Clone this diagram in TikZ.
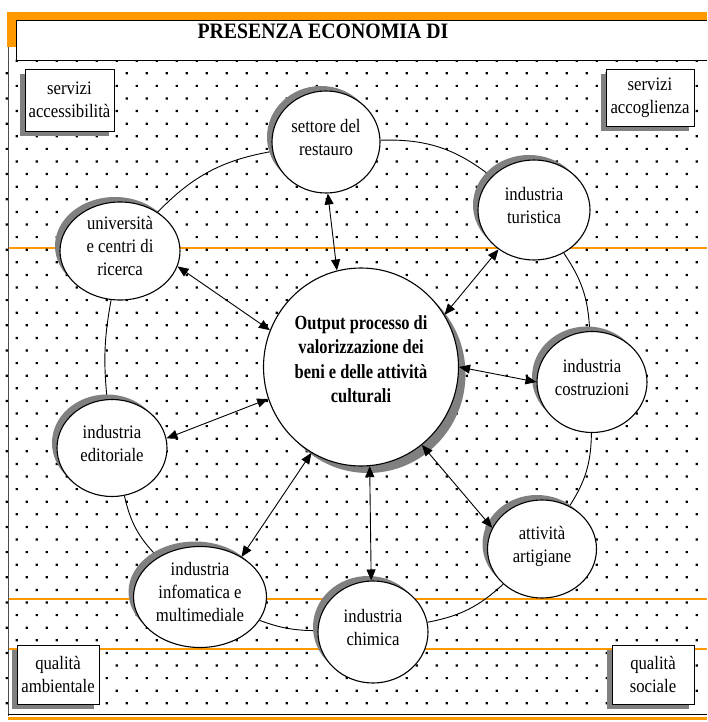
\documentclass[tikz,border=0pt]{standalone}
\usepackage{fontspec}
\setmainfont{Liberation Serif}
\newfontfamily\labelfont[FakeStretch=0.88]{Liberation Serif}
\newfontfamily\corefont[FakeStretch=0.82]{Liberation Serif}
\newfontfamily\headfont[FakeStretch=0.9]{Liberation Serif}
\usetikzlibrary{arrows.meta,shapes.geometric,shadows}
\definecolor{bandorange}{RGB}{255,153,0}
\definecolor{shade}{RGB}{128,128,128}
\pgfdeclarelayer{paper}
\pgfdeclarelayer{ring}
\pgfsetlayers{paper,ring,main}

\begin{document}
\begin{tikzpicture}[x=1pt,y=-1pt,
  sector/.style={ellipse, draw, line width=1.1pt, fill=white, inner sep=0pt,
    align=center, text depth=10pt,
    font=\labelfont\fontsize{19}{23}\selectfont,
    drop shadow={shadow xshift=-5pt, shadow yshift=5pt, fill=shade, opacity=1}},
  core/.style={ellipse, draw, line width=1.1pt, fill=white, inner sep=0pt,
    align=center, text depth=16pt,
    font=\corefont\bfseries\fontsize{20}{24.5}\selectfont,
    drop shadow={shadow xshift=7pt, shadow yshift=-7pt, fill=shade, opacity=1}},
  tag/.style={rectangle, draw, line width=0.9pt, fill=white, inner sep=0pt,
    align=center, font=\labelfont\fontsize{19}{23}\selectfont,
    drop shadow={shadow xshift=-5pt, shadow yshift=-5pt, fill=shade, opacity=1}},
  link/.style={line width=0.9pt},
  flow/.style={line width=0.9pt,
    {Triangle[length=11pt,width=9pt]}-{Triangle[length=11pt,width=9pt]}},
  band/.style={bandorange, line width=1.4pt},
]
\useasboundingbox (0,0) rectangle (707,722);

% ---- sheet: header band, frame, guide lines and dotted fill ----
\begin{pgfonlayer}{paper}
  \fill[white] (0,0) rectangle (707,722);
  \fill[bandorange] (7,12) rectangle (707,47);
  \draw[band] (8,248) -- (707,248);
  \draw[band] (8,599) -- (707,599);
  \draw[band] (8,649) -- (707,649);
  \fill[black]
    \foreach \r in {0,...,51}{
      \foreach \c in {0,...,34}{
        ({ifthenelse(mod(\r,2)==0,16.7,6.7)+20*\c-1.1},{60.7+12.6*\r-1.1}) rectangle ++(2.2,2.2)
      }
    };
  \draw[black!70, line width=1pt] (8,47) -- (8,716);
  \draw[black, line width=1pt] (8,714.5) -- (707,714.5);
  \draw[bandorange, line width=2.5pt] (8,718.5) -- (707,718.5);
  \fill[white] (16,20) rectangle (707,60);
  \draw[line width=0.9pt] (707,20) -- (16,20) -- (16,60) -- (707,60);
\end{pgfonlayer}

\node (title) at (323,31) {\headfont\bfseries\fontsize{22}{24}\selectfont PRESENZA ECONOMIA DI};

% ---- corner boxes ----
\node[tag, minimum width=89pt, minimum height=62pt] (accesso) at (69.5,100) {servizi\\accessibilità};
\node[tag, minimum width=88pt, minimum height=57pt] (accoglie) at (650,97.5) {servizi\\accoglienza};
\node[tag, minimum width=82pt, minimum height=59pt] (ambiente) at (58,674.5) {qualità\\ambientale};
\node[tag, minimum width=82pt, minimum height=59pt] (sociale) at (653,674.5) {qualità\\sociale};

% ---- central output ----
\node[core, minimum width=195pt, minimum height=198pt] (out) at (361,367)
  {Output processo di\\valorizzazione dei\\beni e delle attività\\culturali};

% ---- sectors around it ----
\node[sector, minimum width=108pt, minimum height=102pt] (restauro) at (326,142) {settore del\\restauro};
\node[sector, minimum width=112pt, minimum height=100pt] (turismo) at (534,210) {industria\\turistica};
\node[sector, minimum width=110pt, minimum height=101pt] (edilizia) at (592,382) {industria\\costruzioni};
\node[sector, minimum width=109pt, minimum height=98pt] (artigiani) at (542,549) {attività\\artigiane};
\node[sector, minimum width=110pt, minimum height=102pt] (chimica) at (373,632) {industria\\chimica};
\node[sector, minimum width=133pt, minimum height=101pt] (informatica) at (200,597) {industria\\infomatica e\\multimediale};
\node[sector, minimum width=110pt, minimum height=97pt] (editoria) at (112,448) {industria\\editoriale};
\node[sector, minimum width=120pt, minimum height=98pt] (ricerca) at (120,251) {università\\e centri di\\ricerca};

% ---- ring joining the sectors ----
\begin{pgfonlayer}{ring}
  \draw[link] (restauro) to[bend left=20] (turismo);
  \draw[link] (turismo) to[bend left=16] (edilizia);
  \draw[link] (edilizia) to[bend left=16] (artigiani);
  \draw[link] (artigiani) to[bend left=16] (chimica);
  \draw[link] (chimica) to[bend left=10] (informatica);
  \draw[link] (informatica) to[bend left=16] (editoria);
  \draw[link] (editoria) to[bend left=8] (ricerca);
  \draw[link] (ricerca) to[bend left=18] (restauro);
\end{pgfonlayer}

% ---- exchanges with the output ----
\draw[flow] (out.104.6) -- (restauro.272);
\draw[flow] (out.32) -- (turismo.228);
\draw[flow] (out.0) -- (edilizia.180);
\draw[flow] (out.308.5) -- (artigiani.157);
\draw[flow] (out.275.5) -- (chimica.92);
\draw[flow] (out.240.7) -- (informatica.44.3);
\draw[flow] (out.199.5) -- (editoria.10.7);
\draw[flow] (out.158) -- (ricerca.345);
\end{tikzpicture}
\end{document}
